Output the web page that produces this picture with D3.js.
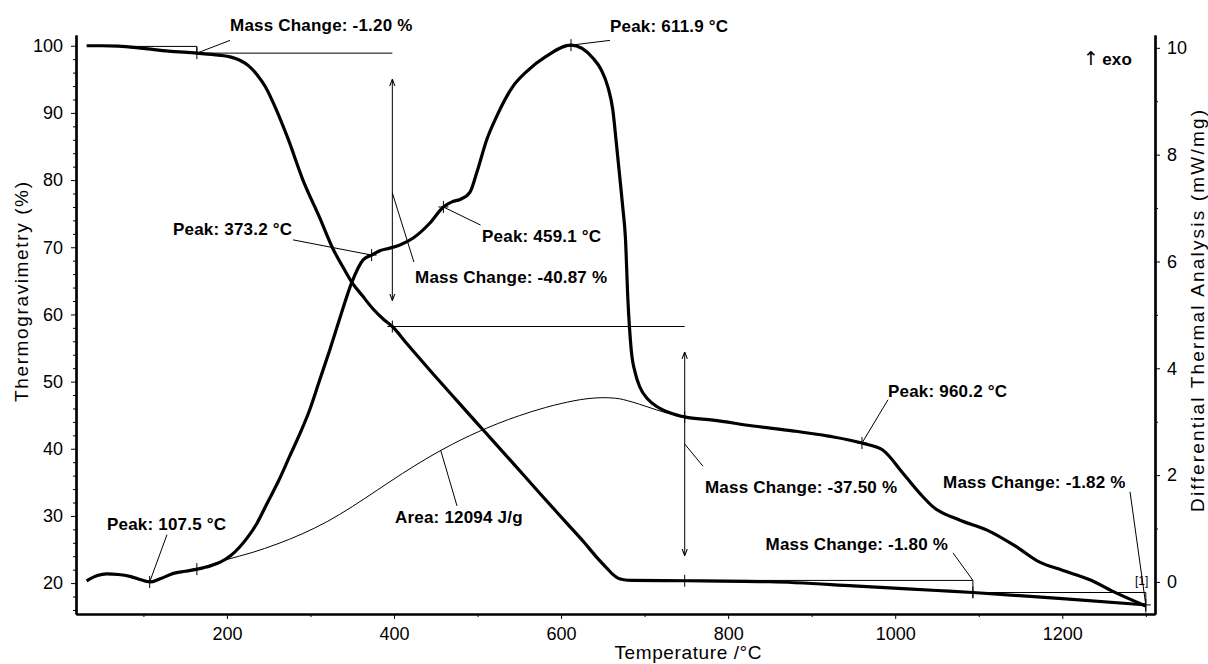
<!DOCTYPE html>
<html lang="en">
<head>
<meta charset="UTF-8">
<title>TG / DTA</title>
<script src="https://cdn.jsdelivr.net/npm/d3@7"></script>
<style>
  body { margin: 0; background: #fff; }
  svg { display: block; font-family: "Liberation Sans", Arial, sans-serif; }
  .axis path, .axis line { stroke: #000; }
  .axis path { stroke-width: 2.2; }
  .axis text { font-size: 18px; fill: #000; font-family: "Liberation Sans", Arial, sans-serif; }
  .title { font-size: 19px; fill: #000; }
  .note { font-size: 17px; font-weight: bold; letter-spacing: 0.2px; fill: #000; }
  .thin { stroke: #000; stroke-width: 1; fill: none; }
</style>
</head>
<body>
<svg id="chart" width="1208" height="664"></svg>
<script>
// TG curve (temperature in °C, mass in %)
const tgTemp = [32, 50, 70, 100, 130, 164, 190, 205, 216, 226, 236, 246, 258, 273, 291, 311, 326, 340, 350, 362, 375, 388, 398, 415, 445, 475, 506, 540, 575, 607, 628, 643, 655, 662, 668, 675, 685, 750, 850, 950, 1050, 1093, 1200, 1300];
const tgMass = [100, 100, 99.95, 99.6, 99.2, 98.9, 98.6, 98.3, 97.8, 97.0, 95.7, 93.9, 90.8, 86.2, 80.0, 74.4, 70.0, 66.8, 64.7, 62.8, 60.8, 59.2, 58.2, 55.7, 51.4, 47.2, 42.9, 38.2, 33.3, 28.9, 26.0, 23.8, 22.2, 21.3, 20.75, 20.5, 20.4, 20.35, 20.2, 19.6, 18.9, 18.6, 17.7, 16.75];

// DTA curve (temperature in °C, heat flow in mW/mg)
const dtaTemp = [32, 45, 56, 70, 85, 97, 107.5, 120, 136, 150, 164, 180, 192, 205, 215, 224, 236, 248, 262, 275, 288, 299, 311, 323, 337, 349, 363, 373.2, 383, 395, 407, 423, 443, 459.1, 470, 479, 491, 499, 511, 523, 542, 559, 582, 611.9, 638, 648, 656, 662, 666, 670, 674, 677, 680, 684, 689, 694, 704, 715, 730, 748, 782, 830, 877, 920, 960.2, 985, 1009, 1030, 1045, 1077, 1110, 1145, 1173, 1200, 1233, 1265, 1300];
const dtaHeat = [0.02, 0.12, 0.15, 0.14, 0.1, 0.04, 0.0, 0.06, 0.16, 0.2, 0.24, 0.3, 0.37, 0.5, 0.65, 0.82, 1.1, 1.47, 1.9, 2.35, 2.8, 3.22, 3.78, 4.34, 5.03, 5.59, 6.03, 6.12, 6.2, 6.25, 6.31, 6.44, 6.72, 7.02, 7.12, 7.16, 7.3, 7.66, 8.28, 8.72, 9.27, 9.56, 9.84, 10.05, 9.81, 9.59, 9.27, 8.83, 8.24, 7.62, 6.99, 6.45, 5.28, 4.34, 3.9, 3.66, 3.42, 3.28, 3.17, 3.09, 3.03, 2.92, 2.83, 2.73, 2.6, 2.47, 2.04, 1.65, 1.41, 1.16, 0.97, 0.66, 0.37, 0.22, 0.04, -0.21, -0.45];

// integration baseline under the big exotherm
const baseTemp = [164, 200, 230, 260, 290, 320, 350, 380, 410, 440, 470, 511, 563, 600, 631, 650, 665, 685, 703, 725, 748];
const baseHeat = [0.24, 0.42, 0.55, 0.71, 0.9, 1.13, 1.41, 1.72, 2.03, 2.32, 2.58, 2.88, 3.18, 3.34, 3.43, 3.45, 3.44, 3.37, 3.28, 3.17, 3.09];

const xMajor = [200, 400, 600, 800, 1000, 1200];
const xMinor = [100, 300, 500, 700, 900, 1100, 1300];
const leftMajor = [20, 30, 40, 50, 60, 70, 80, 90, 100];
const leftMinor = d3.range(16, 101, 2).filter(v => v % 10 !== 0);
const rightMajor = [0, 2, 4, 6, 8, 10];
const rightMinor = [1, 3, 5, 7, 9];

const peakTemps = [107.5, 373.2, 459.1, 611.9, 960.2];

// annotation labels, placed in data units (temperature, TG %)
const notes = [
  { text: "Mass Change: -1.20 %", t: 203.7, v: 102.2, from: [203.7, 100.8], to: ["tg", 164] },
  { text: "Peak: 611.9 °C", t: 658.6, v: 102.05, from: [658.6, 100.8], to: ["dta", 611.9] },
  { text: "Peak: 459.1 °C", t: 505.4, v: 70.8, from: [503.6, 73.3], to: ["dta", 459.1] },
  { text: "Mass Change: -40.87 %", t: 425.2, v: 64.7, from: [398, 78.1], to: ["at", 423.8, 67.8] },
  { text: "Peak: 373.2 °C", t: 135.4, v: 71.8, from: [279.1, 71.1], to: ["dta", 373.2] },
  { text: "Peak: 107.5 °C", t: 56.4, v: 27.9, from: [128.2, 27.2], to: ["dta", 107.5] },
  { text: "Area: 12094 J/g", t: 401.2, v: 28.9, from: [475.4, 31.5], to: ["base", 456] },
  { text: "Mass Change: -37.50 %", t: 772.3, v: 33.4, from: [748, 40.7], to: ["at", 769.9, 37.4] },
  { text: "Peak: 960.2 °C", t: 991.4, v: 47.7, from: [991.4, 47.3], to: ["dta", 960.2] },
  { text: "Mass Change: -1.82 %", t: 1057.3, v: 34.2, from: [1281.1, 33.6], to: ["tg", 1300] },
  { text: "Mass Change: -1.80 %", t: 1063.3, v: 24.9, anchor: "end", from: [1069.2, 24.5], to: ["at", 1093, 20.4] }
];

// step lines of the mass-change evaluation (temperature, TG %)
const stepLines = [
  [[80, 99.9], [164, 99.9], [164, 98.9], [398, 98.9]],
  [[398, 58.2], [748, 58.2]],
  [[748, 20.4], [1093, 20.4], [1093, 17.8]],
  [[1093, 18.6], [1300, 18.6], [1300, 15.6]]
];
const arrows = [
  [[398, 94.9], [398, 62.2]],
  [[748, 54.3], [748, 24.2]]
];
const tgMarks = [164, 398, 748, 1093, 1300];

const svg = d3.select("#chart");
const x = d3.scaleLinear().domain([19.3, 1311]).range([76, 1155]);
const yL = d3.scaleLinear().domain([15.4, 101.6]).range([614, 35]);
const yR = d3.scaleLinear().domain([-0.6, 10.24]).range([614, 35]);

function lookup(ts, vs, t) {
  let i = d3.bisectLeft(ts, t);
  if (i <= 0) return vs[0];
  if (i >= ts.length) return vs[vs.length - 1];
  const f = (t - ts[i - 1]) / (ts[i] - ts[i - 1]);
  return vs[i - 1] + f * (vs[i] - vs[i - 1]);
}
function point(ref) {
  if (ref[0] === "tg") return [x(ref[1]), yL(lookup(tgTemp, tgMass, ref[1]))];
  if (ref[0] === "dta") return [x(ref[1]), yR(lookup(dtaTemp, dtaHeat, ref[1]))];
  if (ref[0] === "base") return [x(ref[1]), yR(lookup(baseTemp, baseHeat, ref[1]))];
  return [x(ref[1]), yL(ref[2])];
}

svg.append("defs").append("marker")
  .attr("id", "head").attr("viewBox", "0 0 8 8")
  .attr("refX", 7).attr("refY", 4)
  .attr("markerWidth", 7).attr("markerHeight", 7)
  .attr("markerUnits", "userSpaceOnUse")
  .attr("orient", "auto-start-reverse")
  .append("path").attr("d", "M0,1L8,4L0,7").attr("fill", "none").attr("stroke", "#000").attr("stroke-width", 1.2);

// axes
svg.append("g").attr("class", "axis").attr("transform", "translate(0,614)")
  .call(d3.axisBottom(x).tickValues(xMinor).tickSize(3).tickSizeOuter(0).tickFormat(""));
svg.append("g").attr("class", "axis").attr("transform", "translate(0,614)")
  .call(d3.axisBottom(x).tickValues(xMajor).tickSize(5).tickSizeOuter(0).tickPadding(8).tickFormat(d3.format("d")));
svg.append("g").attr("class", "axis").attr("transform", "translate(76,0)")
  .call(d3.axisLeft(yL).tickValues(leftMinor).tickSize(3).tickSizeOuter(0).tickFormat(""));
svg.append("g").attr("class", "axis").attr("transform", "translate(76,0)")
  .call(d3.axisLeft(yL).tickValues(leftMajor).tickSize(5).tickSizeOuter(0).tickPadding(8).tickFormat(d3.format("d")));
svg.append("g").attr("class", "axis").attr("transform", "translate(1155,0)")
  .call(d3.axisRight(yR).tickValues(rightMinor).tickSize(3).tickSizeOuter(0).tickFormat(""));
svg.append("g").attr("class", "axis").attr("transform", "translate(1155,0)")
  .call(d3.axisRight(yR).tickValues(rightMajor).tickSize(5).tickSizeOuter(0).tickPadding(7).tickFormat(d3.format("d")));

svg.append("text").attr("class", "title")
  .attr("transform", "translate(28,292) rotate(-90)")
  .attr("text-anchor", "middle").attr("textLength", 220).attr("lengthAdjust", "spacing")
  .text("Thermogravimetry (%)");
svg.append("text").attr("class", "title")
  .attr("transform", "translate(1204,311) rotate(-90)")
  .attr("text-anchor", "middle").attr("textLength", 402).attr("lengthAdjust", "spacing")
  .text("Differential Thermal Analysis (mW/mg)");
svg.append("text").attr("class", "title")
  .attr("x", 688).attr("y", 659)
  .attr("text-anchor", "middle").attr("textLength", 147).attr("lengthAdjust", "spacing")
  .text("Temperature /°C");

// thin evaluation lines
const lineL = d3.line().x(d => x(d[0])).y(d => yL(d[1]));
svg.selectAll("path.step").data(stepLines).enter().append("path")
  .attr("class", "thin step").attr("d", lineL);
svg.selectAll("path.arrow").data(arrows).enter().append("path")
  .attr("class", "thin arrow").attr("d", lineL)
  .attr("marker-start", "url(#head)").attr("marker-end", "url(#head)");

const baseLine = d3.line().x((d, i) => x(baseTemp[i])).y(d => yR(d)).curve(d3.curveMonotoneX);
svg.append("path").attr("class", "thin").attr("d", baseLine(baseHeat));

// main curves
const tgLine = d3.line().x((d, i) => x(tgTemp[i])).y(d => yL(d)).curve(d3.curveMonotoneX);
const dtaLine = d3.line().x((d, i) => x(dtaTemp[i])).y(d => yR(d)).curve(d3.curveMonotoneX);
svg.append("path").attr("d", tgLine(tgMass))
  .attr("fill", "none").attr("stroke", "#000").attr("stroke-width", 3.2).attr("stroke-linejoin", "round");
svg.append("path").attr("d", dtaLine(dtaHeat))
  .attr("fill", "none").attr("stroke", "#000").attr("stroke-width", 3.2).attr("stroke-linejoin", "round");

// cross markers
const marks = tgMarks.map(t => point(["tg", t]))
  .concat(peakTemps.map(t => point(["dta", t])))
  .concat([point(["base", 164]), point(["base", 748])]);
svg.selectAll("path.cross").data(marks).enter().append("path")
  .attr("class", "thin cross")
  .attr("d", d => `M${d[0] - 5},${d[1]}H${d[0] + 5}M${d[0]},${d[1] - 6}V${d[1] + 6}`);

// leaders and labels
svg.selectAll("line.leader").data(notes).enter().append("line")
  .attr("class", "thin leader")
  .attr("x1", d => x(d.from[0])).attr("y1", d => yL(d.from[1]))
  .attr("x2", d => point(d.to)[0]).attr("y2", d => point(d.to)[1]);
svg.selectAll("text.note").data(notes).enter().append("text")
  .attr("class", "note")
  .attr("x", d => x(d.t)).attr("y", d => yL(d.v))
  .attr("text-anchor", d => d.anchor || "start")
  .text(d => d.text);

const exo = svg.append("text").attr("class", "note").attr("x", x(1224.9)).attr("y", yL(97.1));
exo.append("tspan").attr("font-weight", "normal").attr("font-family", "DejaVu Sans")
  .attr("font-size", 19).attr("fill", "#000").text("↑");
exo.append("tspan").attr("dx", 3).text("exo");

svg.append("text").attr("x", x(1287.1)).attr("y", yL(19.7))
  .attr("font-size", 12).attr("fill", "#000").text("[1]");
</script>
</body>
</html>
